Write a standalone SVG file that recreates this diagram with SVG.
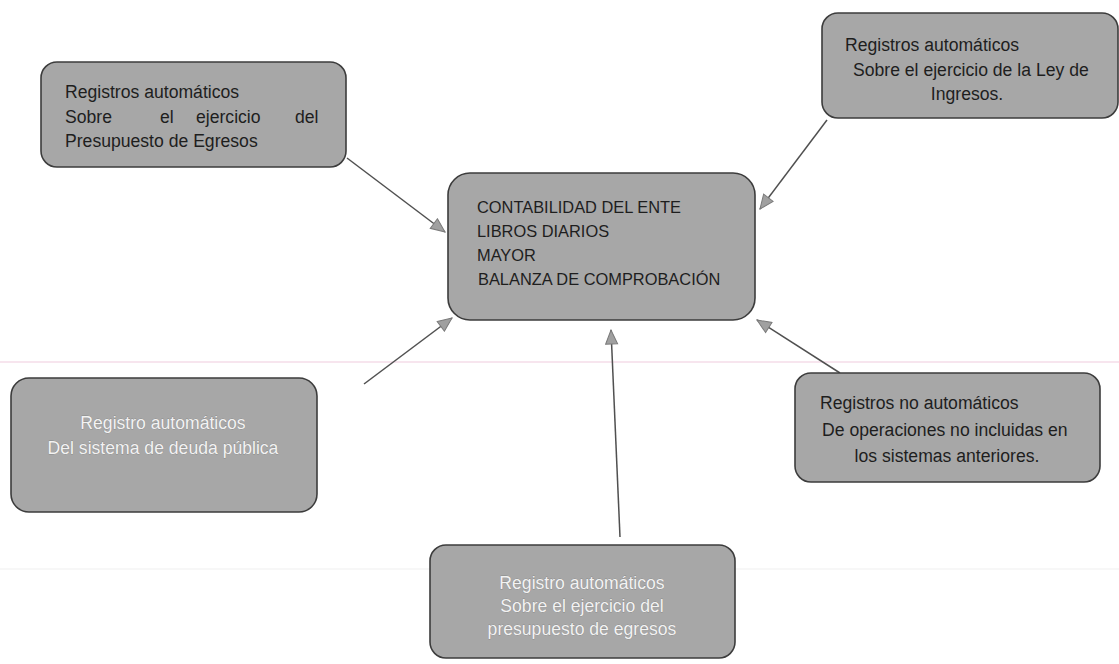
<svg xmlns="http://www.w3.org/2000/svg" width="1119" height="664" viewBox="0 0 1119 664">
<defs>
<marker id="arr" markerWidth="16" markerHeight="14" refX="15" refY="7" orient="auto" markerUnits="userSpaceOnUse">
<path d="M1,1 L15,7 L1,13 Z" fill="#a0a0a0" stroke="#7a7a7a" stroke-width="1"/>
</marker>
<style>
.box{fill:#a7a7a7;stroke:#3c3c3c;stroke-width:1.6}
.t{font-family:"Liberation Sans",Arial,sans-serif;font-size:17.6px;fill:#1e1e1e}
.tc{font-family:"Liberation Sans",Arial,sans-serif;font-size:16.4px;fill:#1e1e1e}
.tw{font-family:"Liberation Sans",Arial,sans-serif;font-size:17.6px;fill:#f2f2f2;text-anchor:middle;stroke:#6a6a6a;stroke-width:0.35;paint-order:stroke}
.mid{text-anchor:middle}
.conn{stroke:#505050;stroke-width:1.5;fill:none;marker-end:url(#arr)}
</style>
</defs>
<rect width="1119" height="664" fill="#ffffff"/>
<line x1="0" y1="362" x2="1119" y2="362" stroke="#f4dde9" stroke-width="1.5"/>
<line x1="0" y1="569" x2="1119" y2="569" stroke="#efefef" stroke-width="1"/>

<g id="connectors">
<line class="conn" x1="347" y1="158" x2="445" y2="232"/>
<line class="conn" x1="827" y1="120" x2="760" y2="209"/>
<line class="conn" x1="364" y1="384" x2="452" y2="318"/>
<line class="conn" x1="620" y1="537" x2="611" y2="330"/>
<line class="conn" x1="840" y1="373" x2="757" y2="320"/>
</g>

<g id="node-presupuesto-egresos">
<rect class="box" x="41" y="62" width="305" height="105" rx="16"/>
<text class="t" x="65" y="98">Registros automáticos</text>
<text class="t" y="123"><tspan x="65">Sobre</tspan><tspan x="160">el</tspan><tspan x="196">ejercicio</tspan><tspan x="295">del</tspan></text>
<text class="t" x="65" y="147">Presupuesto de Egresos</text>
</g>

<g id="node-ley-ingresos">
<rect class="box" x="822" y="13" width="296" height="105" rx="16"/>
<text class="t" x="845" y="51">Registros automáticos</text>
<text class="t" x="853" y="76">Sobre el ejercicio de la Ley de</text>
<text class="t mid" x="967" y="100">Ingresos.</text>
</g>

<g id="node-contabilidad">
<rect class="box" x="448" y="173" width="307" height="147" rx="22"/>
<text class="tc" x="477" y="213">CONTABILIDAD DEL ENTE</text>
<text class="tc" x="477" y="237">LIBROS DIARIOS</text>
<text class="tc" x="477" y="261">MAYOR</text>
<text class="tc" x="478" y="285">BALANZA DE COMPROBACIÓN</text>
</g>

<g id="node-deuda-publica">
<rect class="box" x="11" y="378" width="306" height="134" rx="18"/>
<text class="tw" x="163" y="429">Registro automáticos</text>
<text class="tw" x="163" y="454">Del sistema de deuda pública</text>
</g>

<g id="node-no-automaticos">
<rect class="box" x="795" y="373" width="305" height="109" rx="16"/>
<text class="t" x="820" y="409">Registros no automáticos</text>
<text class="t" x="822" y="436">De operaciones no incluidas en</text>
<text class="t mid" x="947" y="462">los sistemas anteriores.</text>
</g>

<g id="node-presupuesto-egresos-2">
<rect class="box" x="430" y="545" width="305" height="113" rx="16"/>
<text class="tw" x="582" y="589">Registro automáticos</text>
<text class="tw" x="582" y="612">Sobre el ejercicio del</text>
<text class="tw" x="582" y="635">presupuesto de  egresos</text>
</g>
</svg>
